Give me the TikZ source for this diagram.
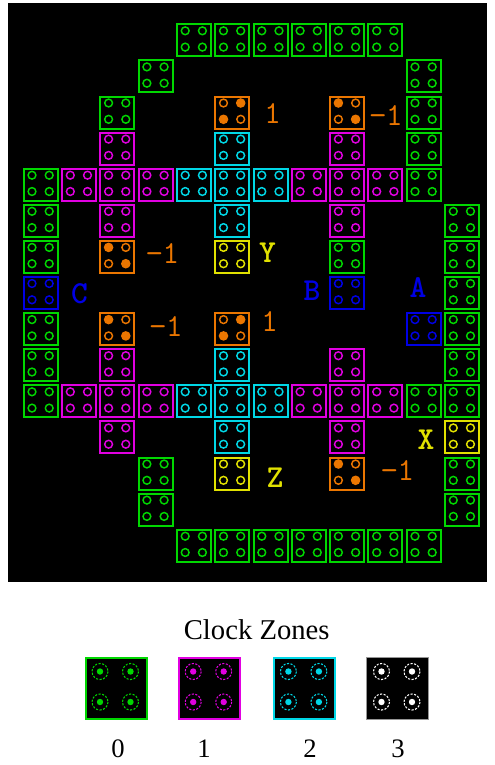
\documentclass[tikz,border=0pt]{standalone}
\usepackage{fontspec}
\setmainfont{Liberation Serif}
\usetikzlibrary{positioning}

\definecolor{zgreen}{RGB}{0,215,0}
\definecolor{zmagenta}{RGB}{225,0,225}
\definecolor{zcyan}{RGB}{0,215,230}
\definecolor{zorange}{RGB}{235,118,0}
\definecolor{zyellow}{RGB}{225,225,0}
\definecolor{zblue}{RGB}{0,0,228}
\definecolor{zgray}{RGB}{150,150,150}

\tikzset{
  pics/qcell/.style={code={
    \draw[line width=1.5pt, #1] (1,1) rectangle (35,33);
    \foreach \dx/\dy in {9.3/7.5, 26.5/7.5, 9.3/23.8, 26.5/23.8}
      \draw[line width=1.1pt, #1] (\dx,\dy) circle[radius=3.9];
  }},
  % fixed cell, polarisation +1
  pics/polplus/.style={code={
    \draw[line width=1.5pt, zorange] (1,1) rectangle (35,33);
    \draw[line width=1.1pt, zorange] (9.3,7.5) circle[radius=3.9] (26.5,23.8) circle[radius=3.9];
    \fill[zorange] (26.5,7.5) circle[radius=4.8] (9.3,23.8) circle[radius=4.8];
  }},
  % fixed cell, polarisation -1
  pics/polminus/.style={code={
    \draw[line width=1.5pt, zorange] (1,1) rectangle (35,33);
    \draw[line width=1.1pt, zorange] (26.5,7.5) circle[radius=3.9] (9.3,23.8) circle[radius=3.9];
    \fill[zorange] (9.3,7.5) circle[radius=4.8] (26.5,23.8) circle[radius=4.8];
  }},
  pics/keydots/.style={code={
    \foreach \dx/\dy in {-16/-16.5, 14.5/-16.5, -16/14, 14.5/14} {
      \draw[#1, line width=0.8pt, dash pattern=on 1.6pt off 1.1pt] (\dx,\dy) circle[radius=8];
      \fill[#1] (\dx,\dy) circle[radius=3.2];
    }
  }}
}

\begin{document}
\begin{tikzpicture}[
  x=0.75pt, y=-0.75pt,
  lbl/.style={inner sep=0pt, font=\ttfamily\fontsize{24}{24}\selectfont},
  lblb/.style={lbl, font=\ttfamily\bfseries\fontsize{24}{24}\selectfont},
  keybox/.style={draw=#1, fill=black, line width=1.5pt, minimum size=45.75pt, inner sep=0pt},
  keynum/.style={inner sep=0pt, font=\fontsize{20}{20}\selectfont}
]
  \useasboundingbox (0,0) rectangle (495,765);
  \fill[black] (8,3) rectangle (487,582);

  % clock zone 0
  \foreach \c/\r in {4/0,5/0,6/0,7/0,8/0,9/0, 3/1,10/1, 2/2,10/2, 10/3, 0/4,10/4,
      0/5,11/5, 0/6,8/6,11/6, 11/7, 0/8,11/8, 0/9,11/9, 0/10,10/10,11/10,
      3/12,11/12, 3/13,11/13, 4/14,5/14,6/14,7/14,8/14,9/14,10/14}
    \pic at ({22.7+38.3*\c},{23.3+36.1*\r}) {qcell=zgreen};
  % clock zone 1
  \foreach \c/\r in {2/3,8/3, 1/4,2/4,3/4,7/4,8/4,9/4, 2/5,8/5,
      2/9,8/9, 1/10,2/10,3/10,7/10,8/10,9/10, 2/11,8/11}
    \pic at ({22.7+38.3*\c},{23.3+36.1*\r}) {qcell=zmagenta};
  % clock zone 2
  \foreach \c/\r in {5/3, 4/4,5/4,6/4, 5/5, 5/9, 4/10,5/10,6/10, 5/11}
    \pic at ({22.7+38.3*\c},{23.3+36.1*\r}) {qcell=zcyan};
  % outputs and inputs
  \foreach \c/\r in {5/6, 11/11, 5/12}
    \pic at ({22.7+38.3*\c},{23.3+36.1*\r}) {qcell=zyellow};
  \foreach \c/\r in {0/7, 8/7, 10/8}
    \pic at ({22.7+38.3*\c},{23.3+36.1*\r}) {qcell=zblue};
  % fixed cells
  \foreach \c/\r in {5/2, 5/8}
    \pic at ({22.7+38.3*\c},{23.3+36.1*\r}) {polplus};
  \foreach \c/\r in {8/2, 2/6, 2/8, 8/12}
    \pic at ({22.7+38.3*\c},{23.3+36.1*\r}) {polminus};

  % labels
  \node[lbl, text=zorange] (pa) at (272.5,114) {1};
  \node[lbl, text=zorange] (pb) at (386,116) {−1};
  \node[lbl, text=zorange] (pc) at (162.5,253.7) {−1};
  \node[lbl, text=zorange] (pd) at (166,326.7) {−1};
  \node[lbl, text=zorange] (pe) at (269.5,322) {1};
  \node[lbl, text=zorange] (pf) at (397.5,470.8) {−1};
  \node[lblb, text=zblue] (inA) at (418,287.5) {A};
  \node[lblb, text=zblue] (inB) at (312,290.5) {B};
  \node[lblb, text=zblue] (inC) at (79.5,294) {C};
  \node[lblb, text=zyellow] (outX) at (426,439.5) {X};
  \node[lblb, text=zyellow] (outY) at (267.5,252.5) {Y};
  \node[lblb, text=zyellow] (outZ) at (275,477.5) {Z};

  % legend
  \node[inner sep=0pt, font=\fontsize{21.5}{22}\selectfont] (title) at (256.7,629.5) {Clock Zones};
  \node[keybox=zgreen] (key0) at (116,688) {};
  \node[keybox=zmagenta] (key1) at (209.2,688) {};
  \node[keybox=zcyan] (key2) at (304.4,688) {};
  \node[keybox=zgray, line width=0.75pt, minimum size=46.5pt] (key3) at (397.5,688) {};
  \pic at (key0.center) {keydots=zgreen};
  \pic at (key1.center) {keydots=zmagenta};
  \pic at (key2.center) {keydots=zcyan};
  \pic at (key3.center) {keydots=white};
  \node[keynum] (n0) at (118,749) {0};
  \node[keynum] (n1) at (204,749) {1};
  \node[keynum] (n2) at (310,749) {2};
  \node[keynum] (n3) at (398,749) {3};
\end{tikzpicture}
\end{document}
